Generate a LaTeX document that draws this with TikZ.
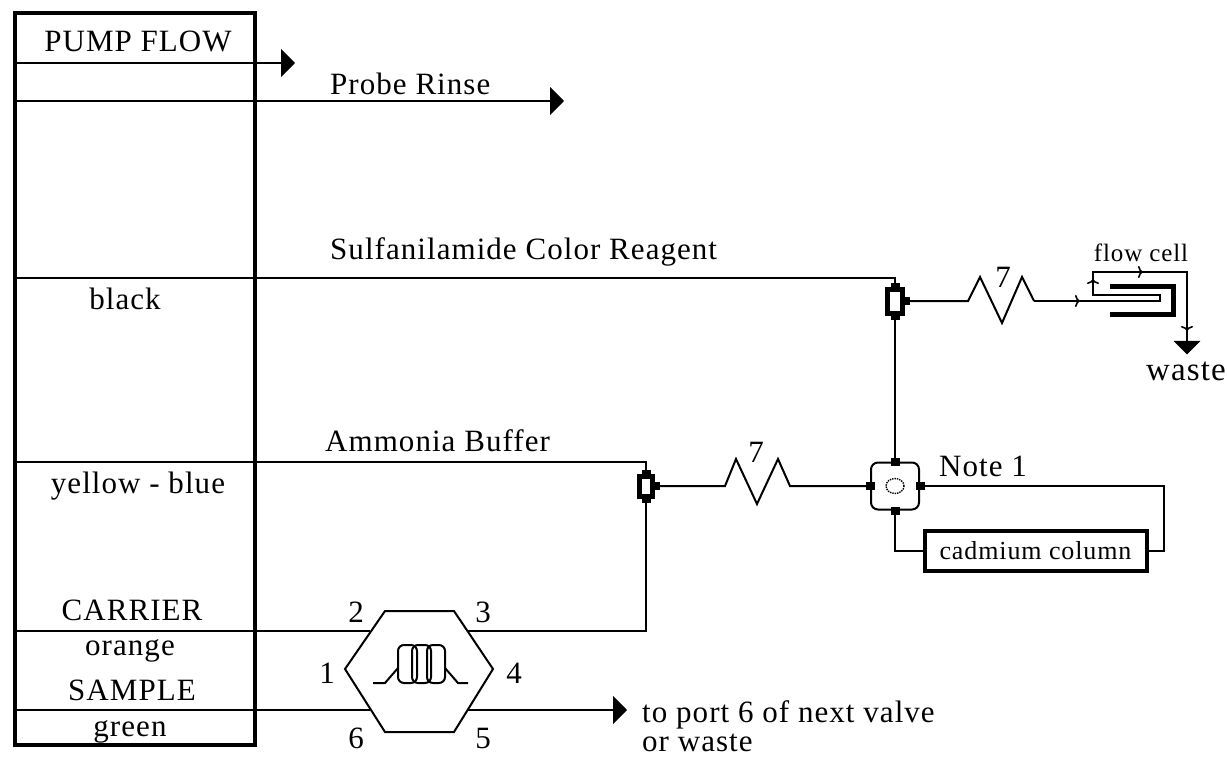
\documentclass[tikz,border=0pt]{standalone}
\usepackage{fontspec}
\setmainfont[LetterSpace=3.4]{Liberation Serif}
\usetikzlibrary{arrows.meta}
\usetikzlibrary{shapes.geometric}
\tikzset{
  pipe/.style={line width=2pt},
  flowtick/.style={line width=1.6pt,-{To[length=5pt,width=12pt]}},
  lbl/.style={inner sep=0pt,font=\fontsize{31}{34}\selectfont},
  lblw/.style={lbl,anchor=west},
  lbls/.style={inner sep=0pt,font=\fontsize{26}{30}\selectfont},
  fitting/.style={draw,line width=5pt,fill=white,inner sep=0pt},
  nub/.style={fill=black,inner sep=0pt,minimum width=9pt,minimum height=8pt},
  bigtip/.style={pipe,-{Triangle[length=14pt,width=28pt]}},
}
\begin{document}
\begin{tikzpicture}[x=1pt,y=-1pt]
\useasboundingbox (0,0) rectangle (1227,757);
% pump
\node[draw,line width=4pt,minimum width=240pt,minimum height=731pt,inner sep=0pt] (pump) at (134.5,379) {};
\node[lbl] (flowlbl) at (138,41) {PUMP FLOW};
\node[lbl] (blacklbl) at (125,299) {black};
\node[lbl] (yellowlbl) at (138,486) {yellow - blue};
\node[lbl] (carrierlbl) at (132,610) {CARRIER};
\node[lbl] (orangelbl) at (130,651) {orange};
\node[lbl] (samplelbl) at (132,690) {SAMPLE};
\node[lbl] (greenlbl) at (130,732) {green};
%
\coordinate (pumpa) at (14,63);
\coordinate (pumpb) at (14,101);
\coordinate (pumpc) at (14,278);
\coordinate (pumpd) at (14,462);
\coordinate (pumpe) at (14,631);
\coordinate (pumpf) at (14,710);
\coordinate (enda) at (295,63);
\coordinate (endb) at (564,101);
\draw[bigtip] (pumpa) -- (enda);
\draw[bigtip] (pumpb) -- (endb);
\node[lblw] (rinselbl) at (330,84) {Probe Rinse};
\node[lblw] (sulflbl) at (330,252) {Sulfanilamide Color Reagent};
\node[lblw] (ammlbl) at (325,441) {Ammonia Buffer};
%
% fittings
\node[fitting,minimum width=15pt,minimum height=24pt] (fita) at (895,301) {};
\node[fitting,minimum width=13pt,minimum height=20pt] (fitb) at (646,486) {};
\node[nub] at (fita.north) {};
\node[nub] at (fita.south) {};
\node[nub] at (fita.east) {};
\node[nub] at (fitb.north) {};
\node[nub] at (fitb.south) {};
\node[nub] at (fitb.east) {};
\draw[pipe] (pumpc) -| (fita.north);
\draw[pipe] (pumpd) -| (fitb.north);
%
% mixing valve
\node[draw,pipe,rounded corners=7pt,minimum width=48pt,minimum height=47pt,inner sep=0pt] (mix) at (895,486) {};
\node[draw,line width=1.4pt,densely dotted,ellipse,minimum width=18pt,minimum height=15pt,inner sep=0pt] (mixhole) at (mix) {};
\node[nub] at (mix.north) {};
\node[nub] at (mix.south) {};
\node[nub] at (mix.east) {};
\node[nub] at (mix.west) {};
\draw[pipe] (mix.north) -- (fita.south);
\node[lblw] (notelbl) at (939,466) {Note 1};
%
% coil one
\coordinate (coila) at (968,301);
\coordinate (coilb) at (1034,301);
\draw[pipe] (fita.east) -- (coila) -- (980,277) -- (1002,323) -- (1022,277) -- (coilb);
\node[lbl] (sevena) at (1003,277) {7};
\coordinate (tickb) at (1080,301);
\coordinate (cellin) at (1160,301);
\draw[flowtick] (coilb) -- (tickb);
%
% flow cell
\draw[line width=1.6pt] (tickb) -- (cellin) -- (1160,295) -- (1093,295) -- (1093,272) -- (1187,272) -- (1187,341);
\draw[flowtick] (1093,290) -- (1093,279);
\draw[flowtick] (1125,272) -- (1143,272);
\draw[flowtick] (1187,320) -- (1187,331);
\draw[fill=black] (1174,341) -- (1200,341) -- (1187,354) -- cycle;
\draw[line width=5pt] (1110,286) -- (1173,286) -- (1173,314) -- (1110,314);
\node[lbl,font=\fontsize{25}{28}\selectfont] (celllbl) at (1141,253) {flow cell};
\node[lbl,font=\fontsize{33}{36}\selectfont] (wastelbl) at (1186,371) {waste};
%
% coil two
\coordinate (coilc) at (725,486);
\coordinate (coild) at (790,486);
\draw[pipe] (fitb.east) -- (coilc) -- (736,459) -- (757,504) -- (778,459) -- (coild) -- (mix.west);
\node[lbl] (sevenb) at (756,452) {7};
%
% cadmium column
\node[draw,line width=4pt,minimum width=222pt,minimum height=40pt,inner sep=0pt,lbls] (cad) at (1035.5,551) {cadmium column};
\draw[pipe] (mix.east) -| (1164,551) -- (cad.east);
\draw[pipe] (mix.south) |- (cad.west);
%
% sample valve
\coordinate (hexa) at (345,669);
\coordinate (hexb) at (385,611);
\coordinate (hexc) at (454,611);
\coordinate (hexd) at (493,669);
\coordinate (hexe) at (454,732);
\coordinate (hexf) at (385,732);
\draw[pipe] (hexa) -- (hexb) -- (hexc) -- (hexd) -- (hexe) -- (hexf) -- cycle;
\coordinate (portb) at (370,631);
\coordinate (portc) at (468,631);
\coordinate (portf) at (370,710);
\coordinate (porte) at (468,710);
\coordinate (ende) at (627,710);
\draw[pipe] (pumpe) -- (portb);
\draw[pipe] (portc) -| (fitb.south);
\draw[pipe] (pumpf) -- (portf);
\draw[bigtip] (porte) -- (ende);
\node[lbl] (portlbla) at (356,612) {2};
\node[lbl] (portlblb) at (483,612) {3};
\node[lbl] (portlblc) at (327,673) {1};
\node[lbl] (portlbld) at (514,673) {4};
\node[lbl] (portlble) at (356,738) {6};
\node[lbl] (portlblf) at (483,738) {5};
\node[lblw] (nexta) at (642,715) {to port 6 of next valve};
\node[lblw] (nextb) at (642,743) {or waste};
%
% sample loop
\draw[pipe,rounded corners=6pt] (398,645) rectangle (417,683);
\draw[pipe,rounded corners=6pt] (412,645) rectangle (431,683);
\draw[pipe,rounded corners=6pt] (427,645) rectangle (445,683);
\draw[pipe] (373,683) -- (385,683) -- (398,668);
\draw[pipe] (445,668) -- (458,683) -- (468,683);
\end{tikzpicture}
\end{document}
